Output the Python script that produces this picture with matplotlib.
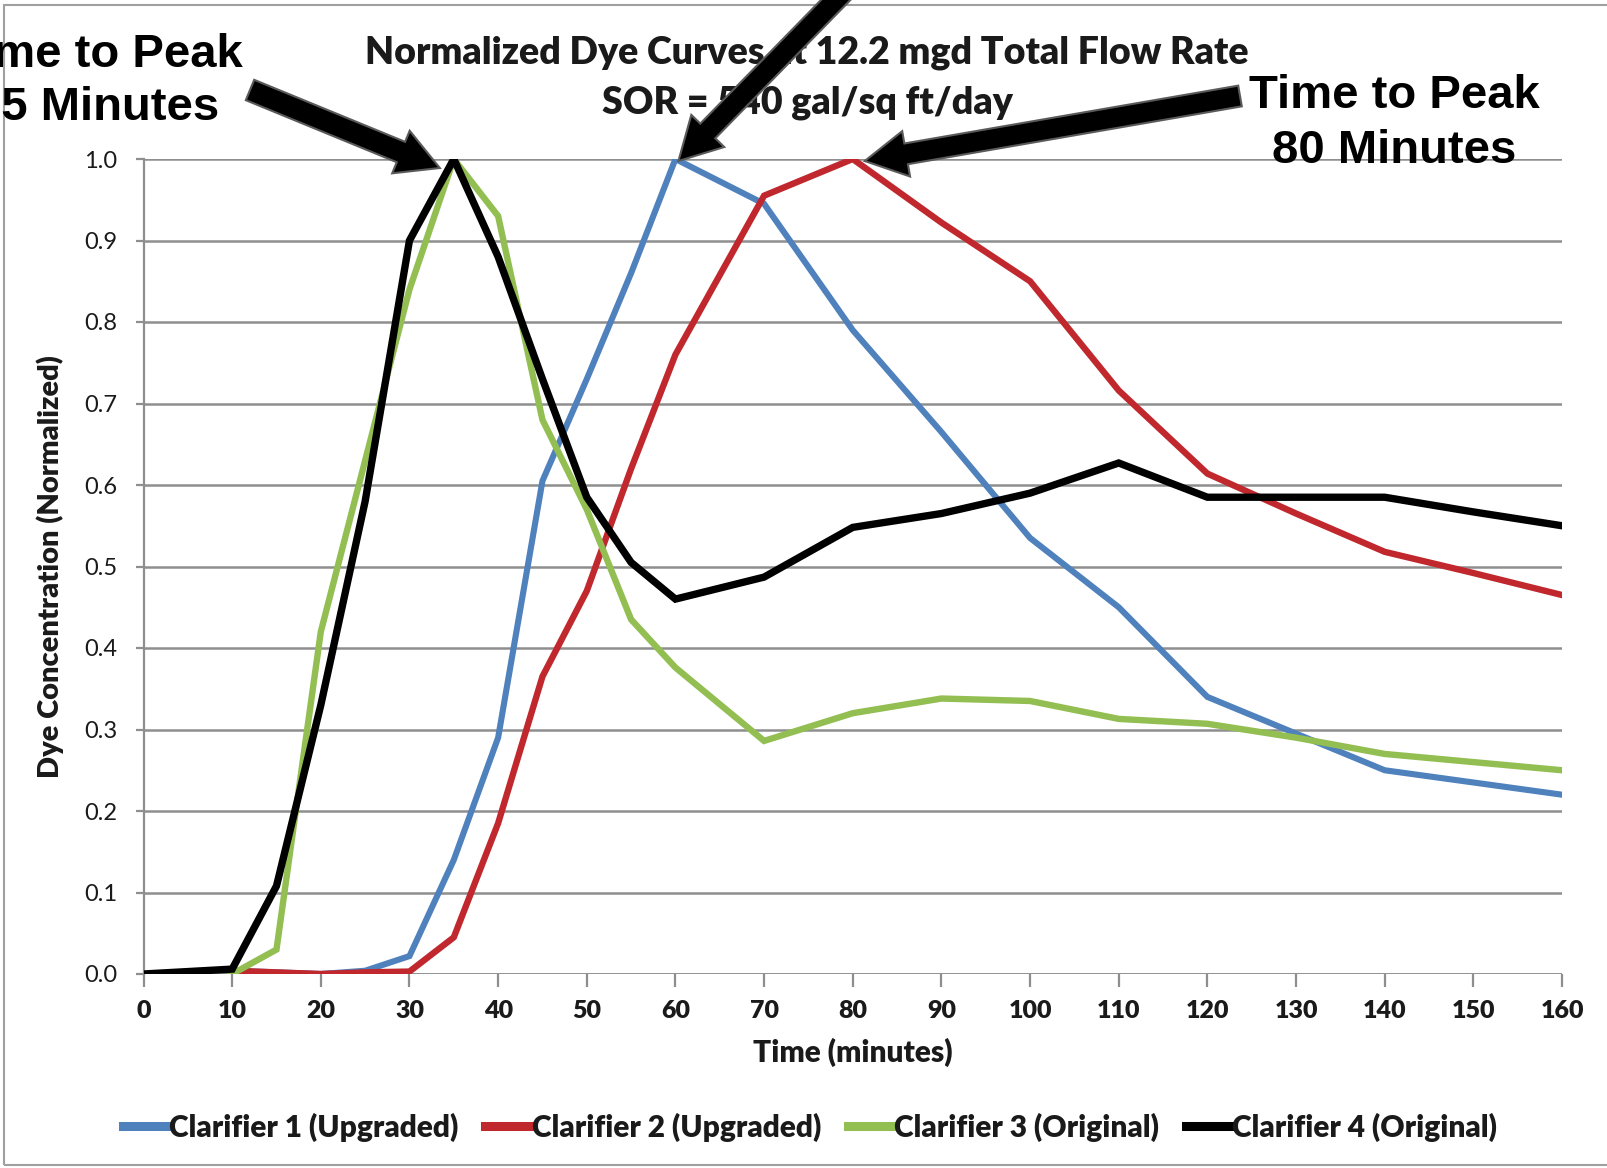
import matplotlib
matplotlib.use("Agg")
import matplotlib.pyplot as plt
from matplotlib.patches import FancyArrow, Rectangle
from matplotlib.transforms import IdentityTransform
import numpy as np

# ---------------- data ----------------
time_c4 = [0, 10, 15, 20, 25, 30, 35, 40, 45, 50, 55, 60, 70, 80, 90, 100, 110, 120, 130, 140, 150, 160]
clar4 = [0.0, 0.006, 0.108, 0.33, 0.58, 0.90, 1.0, 0.88, 0.73, 0.585, 0.505, 0.46, 0.487, 0.548, 0.565, 0.59, 0.627, 0.585, 0.585, 0.585, 0.567, 0.55]

time_c = [10, 15, 20, 25, 30, 35, 40, 45, 50, 55, 60, 70, 80, 90, 100, 110, 120, 130, 140, 150, 160]
clar1 = [0.004, 0.002, 0.0, 0.004, 0.022, 0.14, 0.29, 0.605, 0.73, 0.86, 1.0, 0.945, 0.79, 0.665, 0.535, 0.45, 0.34, 0.295, 0.25, 0.235, 0.22]
clar2 = [0.004, 0.002, 0.0, 0.002, 0.003, 0.045, 0.185, 0.365, 0.47, 0.62, 0.76, 0.955, 1.0, 0.922, 0.85, 0.716, 0.614, 0.565, 0.518, 0.492, 0.465]
clar3 = [0.0, 0.03, 0.42, 0.63, 0.84, 1.0, 0.93, 0.68, 0.57, 0.435, 0.376, 0.286, 0.32, 0.338, 0.335, 0.313, 0.307, 0.29, 0.27, 0.26, 0.25]

labels = ["Clarifier 1 (Upgraded)", "Clarifier 2 (Upgraded)", "Clarifier 3 (Original)", "Clarifier 4 (Original)"]
colors = ["#4F81BD", "#C0282D", "#92BE52", "#000000"]
x_ticks = list(range(0, 161, 10))
y_ticks = [0.0, 0.1, 0.2, 0.3, 0.4, 0.5, 0.6, 0.7, 0.8, 0.9, 1.0]

title1 = "Normalized Dye Curves at 12.2 mgd Total Flow Rate"
title2 = "SOR = 540 gal/sq ft/day"
peak_times = [35, 60, 80]

# ---------------- figure ----------------
W, H = 1607, 1168
fig = plt.figure(figsize=(W / 100, H / 100), dpi=100)
fig.patch.set_facecolor("white")
plt.rcParams["font.family"] = ["Lato", "DejaVu Sans"]
HEAVY = 800

ax = fig.add_axes([143.5 / W, 1 - 974 / H, (1562 - 143.5) / W, (974 - 159) / H])
ax.set_xlim(0, 160)
ax.set_ylim(0, 1.0)

grid_c = "#8E8E8E"
for s in ["top", "right", "bottom"]:
    ax.spines[s].set_visible(False)
ax.spines["left"].set_color(grid_c)
ax.spines["left"].set_linewidth(1.6)
ax.yaxis.grid(True, color=grid_c, linewidth=1.8)
ax.set_axisbelow(True)
ax.axhline(0, color=grid_c, linewidth=1.8, zorder=1)

ax.plot(time_c, clar1, color=colors[0], lw=4.4, label=labels[0], solid_joinstyle="miter", zorder=3)
ax.plot(time_c, clar2, color=colors[1], lw=4.6, label=labels[1], solid_joinstyle="miter", zorder=3)
ax.plot(time_c, clar3, color=colors[2], lw=4.6, label=labels[2], solid_joinstyle="miter", zorder=3)
ax.plot(time_c4, clar4, color=colors[3], lw=5.3, label=labels[3], solid_joinstyle="miter", zorder=4)

ax.set_xticks(x_ticks)
ax.set_yticks(y_ticks)
ax.set_yticklabels([f"{v:.1f}" for v in y_ticks])
ax.tick_params(axis="x", direction="out", length=9, width=1.6, color=grid_c, labelsize=18, pad=10)
ax.tick_params(axis="y", direction="out", length=6, width=1.6, color=grid_c, labelsize=17, pad=13)
for t in ax.get_xticklabels():
    t.set_color("#1a1a1a")
    t.set_fontweight(HEAVY)
for t in ax.get_yticklabels():
    t.set_color("#1a1a1a")

ax.set_xlabel("Time (minutes)", fontsize=21.5, fontweight=HEAVY, labelpad=11, color="#1a1a1a")
ax.set_ylabel("Dye Concentration (Normalized)", fontsize=21, fontweight=HEAVY, labelpad=14, color="#1a1a1a")

leg = ax.legend(loc="center", bbox_to_anchor=(0.47, -0.188), ncol=4, frameon=False,
                handlelength=1.5, handletextpad=0.05, columnspacing=0.9,
                prop={"weight": HEAVY, "size": 21.5})
for line in leg.get_lines():
    line.set_linewidth(6.5)
for t in leg.get_texts():
    t.set_color("#1a1a1a")

# title
fig.text(807 / W, 1 - 63 / H, title1, ha="center", va="baseline", fontsize=27, fontweight=HEAVY, color="#1a1a1a")
fig.text(807 / W, 1 - 114 / H, title2, ha="center", va="baseline", fontsize=27, fontweight=HEAVY, color="#1a1a1a")

# annotations
narrow = ["Liberation Sans", "DejaVu Sans"]
fig.text(97 / W, 1 - 67 / H, "Time to Peak", ha="center", va="baseline", fontsize=34, fontweight="bold", family=narrow)
fig.text(97 / W, 1 - 120 / H, "35 Minutes", ha="center", va="baseline", fontsize=34, fontweight="bold", family=narrow)
fig.text(1394 / W, 1 - 108 / H, "Time to Peak", ha="center", va="baseline", fontsize=34, fontweight="bold", family=narrow)
fig.text(1394 / W, 1 - 163 / H, "80 Minutes", ha="center", va="baseline", fontsize=34, fontweight="bold", family=narrow)

# arrows (pixel coordinates; tips derived from peak positions)
def arrow_to(peak_t, tail_px, tip_offset, width=21):
    px, py = ax.transData.transform((peak_t, 1.0))
    tx, ty = px + tip_offset[0], py + tip_offset[1]
    sx, sy = tail_px[0], H - tail_px[1]
    a = FancyArrow(sx, sy, tx - sx, ty - sy, width=width, head_width=46, head_length=42,
                   length_includes_head=True, fc="black", ec="#5A5A5A", lw=1.5,
                   transform=IdentityTransform(), zorder=10)
    fig.add_artist(a)

arrow_to(peak_times[0], (250, 90), (-14, -9), width=22)
arrow_to(peak_times[1], (865, -30), (3, -2), width=21)
arrow_to(peak_times[2], (1240, 96), (12, -2), width=21)

# outer chart border
fig.add_artist(Rectangle((4 / W, 3 / H), 1.2, 1 - 8 / H, transform=fig.transFigure,
                         fill=False, ec="#A0A0A0", lw=1.5, zorder=0))

fig.savefig("out.png", dpi=100, facecolor="white")
